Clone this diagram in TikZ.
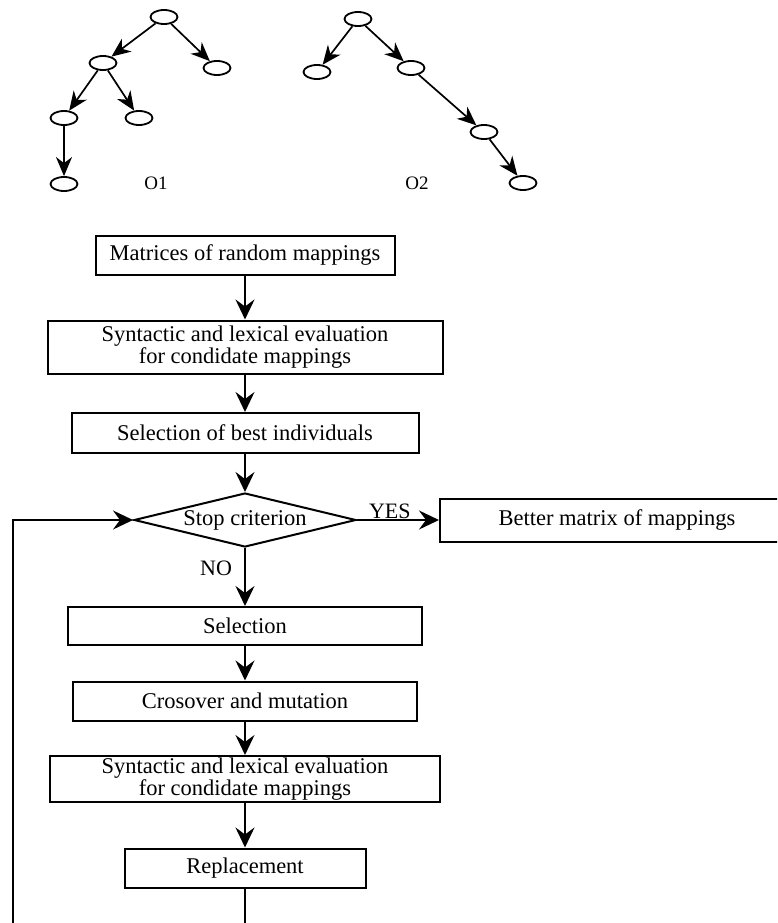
\documentclass[tikz,border=0pt]{standalone}
\usepackage{fontspec}
\setmainfont{Liberation Serif}
\usetikzlibrary{arrows.meta,shapes.geometric}

\tikzset{
  leaf/.style={ellipse,draw,line width=1.8pt,minimum width=27pt,minimum height=14pt,inner sep=0pt},
  edge/.style={line width=1.7pt,-{Stealth[length=19pt,width=16pt,inset=6pt]}},
  block/.style={rectangle,draw,line width=2pt,align=center,inner sep=0pt,
    font=\fontsize{22.5}{20}\selectfont},
  flow/.style={line width=2pt,-{Stealth[length=20pt,width=19pt,inset=7pt]}},
  tag/.style={font=\fontsize{22}{22}\selectfont,inner sep=1pt},
}

\begin{document}
\begin{tikzpicture}[x=1pt,y=-1pt]
\useasboundingbox (0,0) rectangle (777,923);
\clip (0,0) rectangle (777,923);

% tree O1
\node[leaf] (a0) at (164,17) {};
\node[leaf] (a1) at (103,63) {};
\node[leaf] (a2) at (217,68) {};
\node[leaf] (a3) at (64,118) {};
\node[leaf] (a4) at (139,118) {};
\node[leaf] (a5) at (64,184) {};
\node[tag,font=\fontsize{19}{19}\selectfont] (o1) at (156,183) {O1};

\draw[edge] (a0) -- (a1);
\draw[edge] (a0) -- (a2);
\draw[edge] (a1) -- (a3);
\draw[edge] (a1) -- (a4);
\draw[edge] (a3) -- (a5);

% tree O2
\node[leaf] (b0) at (358,19) {};
\node[leaf] (b1) at (317,72) {};
\node[leaf] (b2) at (411,68) {};
\node[leaf] (b3) at (484,132) {};
\node[leaf] (b4) at (523,183) {};
\node[tag,font=\fontsize{19}{19}\selectfont] (o2) at (417,183) {O2};

\draw[edge] (b0) -- (b1);
\draw[edge] (b0) -- (b2);
\draw[edge] (b2) -- (b3);
\draw[edge] (b3) -- (b4);

% flow chart
\node[block,minimum width=299pt,minimum height=39pt] (mat) at (245,255) {Matrices of random mappings};
\node[block,minimum width=395pt,minimum height=53pt] (eval1) at (245,347) {Syntactic and lexical evaluation\\for condidate mappings};
\node[block,minimum width=347pt,minimum height=40pt] (best) at (245,433) {Selection of best individuals};
\node[diamond,draw,line width=2pt,aspect=4.1,minimum width=222pt,minimum height=54pt,inner sep=0pt,
  font=\fontsize{22.5}{22}\selectfont] (stop) at (245,520) {Stop criterion};
\node[block,minimum width=354pt,minimum height=43pt] (better) at (617,520) {Better matrix of mappings};
\node[block,minimum width=354pt,minimum height=38pt] (sel) at (245,626) {Selection};
\node[block,minimum width=344pt,minimum height=39pt] (cross) at (245,701) {Crosover and mutation};
\node[block,minimum width=390pt,minimum height=46pt] (eval2) at (245,779) {Syntactic and lexical evaluation\\for condidate mappings};
\node[block,minimum width=241pt,minimum height=39pt] (repl) at (245,868) {Replacement};

\draw[flow] (mat) -- (eval1);
\draw[flow] (eval1) -- (best);
\draw[flow] (best) -- (stop);
\draw[flow] (stop.east) -- node[tag,pos=0.4,above,inner sep=0pt] {YES} (better.west);
\draw[flow] (stop.south) -- node[tag,pos=0.35,left,inner sep=12pt] {NO} (sel.north);
\draw[flow] (sel) -- (cross);
\draw[flow] (cross) -- (eval2);
\draw[flow] (eval2) -- (repl);

% back to the test
\coordinate (loop) at (13,945);
\draw[flow] (repl.south) |- (loop) |- (stop.west);

\end{tikzpicture}
\end{document}
